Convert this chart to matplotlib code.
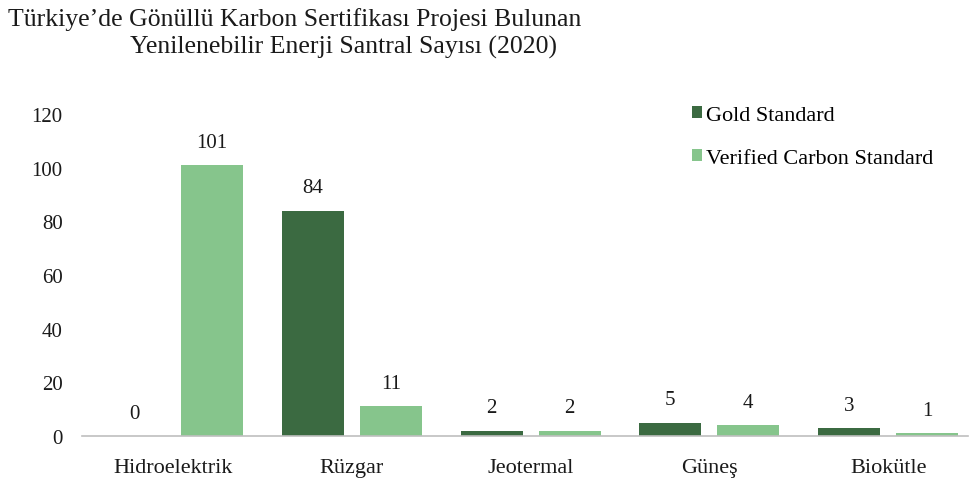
import numpy as np
import matplotlib
matplotlib.use('Agg')
import matplotlib.pyplot as plt

categories = ['Hidroelektrik', 'Rüzgar', 'Jeotermal', 'Güneş', 'Biokütle']
gold_standard = [0, 84, 2, 5, 3]
verified_carbon = [101, 11, 2, 4, 1]
y_ticks = [0, 20, 40, 60, 80, 100, 120]

plt.rcParams['font.family'] = ['Liberation Serif', 'DejaVu Serif']

fig = plt.figure(figsize=(9.73, 4.85), dpi=100)
ax = fig.add_axes([0.0843, 0.099, 0.9106, 0.664])

x = np.arange(len(categories))
width = 0.347
offset = 0.218
dark = '#3b6a41'
light = '#86c58c'

b1 = ax.bar(x - offset, gold_standard, width, color=dark, label='Gold Standard')
b2 = ax.bar(x + offset, verified_carbon, width, color=light,
            label='Verified Carbon Standard')

for bars, vals in [(b1, gold_standard), (b2, verified_carbon)]:
    for bar, v in zip(bars, vals):
        ax.annotate(str(v), (bar.get_x() + bar.get_width() / 2, v),
                    xytext=(0, 16.5), textcoords='offset points',
                    ha='center', va='center', fontsize=15, color='#1a1a1a')

ax.set_xlim(-0.51, 4.447)
ax.set_ylim(0, 120)
ax.set_yticks(y_ticks)
ax.set_xticks(x)
ax.set_xticklabels(categories)
ax.tick_params(axis='both', length=0, colors='#1a1a1a')
ax.tick_params(axis='y', pad=14, labelsize=15)
ax.tick_params(axis='x', pad=16, labelsize=16)
for side in ['top', 'right', 'left']:
    ax.spines[side].set_visible(False)
ax.spines['bottom'].set_color('#bfbfbf')
ax.spines['bottom'].set_linewidth(1.2)

ax.legend(loc='upper left', bbox_to_anchor=(692 / 973, 0.779),
          bbox_transform=fig.transFigure, frameon=False, borderpad=0,
          borderaxespad=0, fontsize=16, handlelength=0.45, handleheight=0.45,
          handletextpad=0.2, labelspacing=1.05)

fig.text(0.008, 0.959, 'Türkiye\u2019de Gönüllü Karbon Sertifikası Projesi Bulunan',
         fontsize=18.5, ha='left', va='center', color='#1a1a1a')
fig.text(343 / 973, 0.903, 'Yenilenebilir Enerji Santral Sayısı (2020)',
         fontsize=18.5, ha='center', va='center', color='#1a1a1a')

fig.savefig('out.png', dpi=100)
